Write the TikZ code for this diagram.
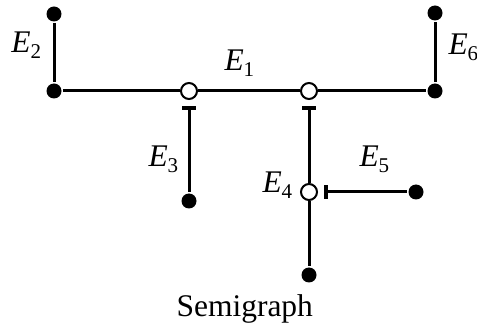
\documentclass[tikz,border=0pt]{standalone}
\usepackage{fontspec}
\setmainfont{Liberation Serif}
\usetikzlibrary{arrows.meta}

% label of an edge: italic E with an upright index
\newcommand{\edgelbl}[1]{\textit{E}\raisebox{-0.35ex}{\fontsize{21}{22}\selectfont #1}}

\begin{document}
\begin{tikzpicture}[x=1pt, y=-1pt, line width=3pt,
		font=\fontsize{31.5}{36}\selectfont]
	
	\tikzset{
		endv/.style={circle, fill=black, inner sep=0pt, minimum size=15pt},
		midv/.style={circle, draw, fill=white, line width=2pt, inner sep=0pt, minimum size=16pt},
		lbl/.style={anchor=base west, inner sep=0pt},
		barend/.style={{Bar[width=14pt, line width=3.6pt]}-, shorten <=6pt}
	}
	
	\useasboundingbox (0, 0) rectangle (477, 331);
	
	% --- VERTICI ---
	\node[endv] (v2top) at (54, 14) {};
	\node[endv] (v2) at (54, 91) {};
	\node[midv] (m1) at (189, 91) {};
	\node[midv] (m2) at (309, 91) {};
	\node[endv] (v6) at (435, 91) {};
	\node[endv] (v6top) at (435, 13) {};
	\node[endv] (v3) at (189, 201) {};
	\node[midv] (m4) at (309, 192) {};
	\node[endv] (v4) at (309, 275) {};
	\node[endv] (v5) at (416, 192) {};
	
	% --- LATI ---
	\draw (v2top) -- (v2);
	\draw (v2) -- (m1) -- (m2) -- (v6);
	\draw (v6) -- (v6top);
	\draw[barend] (m1) -- (v3);
	\draw[barend] (m2) -- (m4);
	\draw (m4) -- (v4);
	\draw[barend] (m4) -- (v5);
	
	% --- ETICHETTE ---
	\node[lbl] (l1) at (223, 71) {\edgelbl{1}};
	\node[lbl] (l2) at (10, 53) {\edgelbl{2}};
	\node[lbl] (l3) at (147, 167) {\edgelbl{3}};
	\node[lbl] (l4) at (261, 193) {\edgelbl{4}};
	\node[lbl] (l5) at (358, 167) {\edgelbl{5}};
	\node[lbl] (l6) at (447, 55) {\edgelbl{6}};
	
	\node[lbl] (titolo) at (175, 317) {Semigraph};
	
\end{tikzpicture}
\end{document}
